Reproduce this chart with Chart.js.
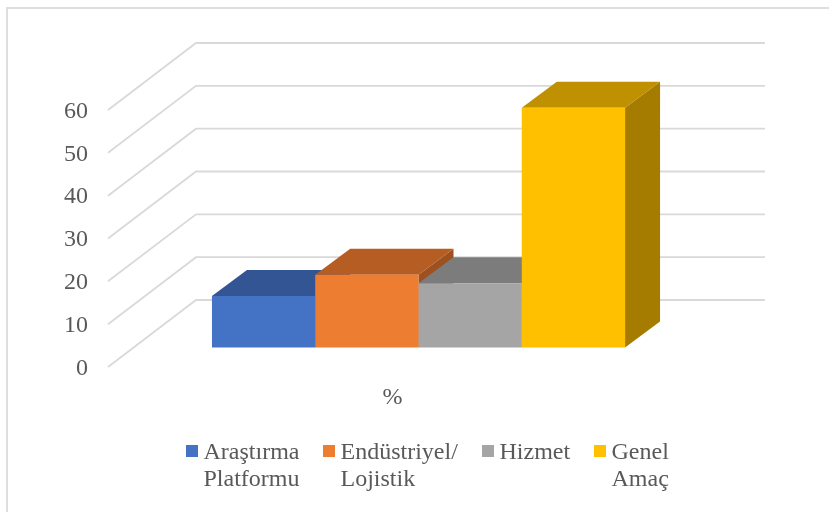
<!DOCTYPE html>
<html>
<head>
<meta charset="utf-8">
<script src="https://cdn.jsdelivr.net/npm/chart.js@4"></script>
<style>
    body { margin: 0; background: #fff; }
    #wrap { position: relative; width: 829px; height: 512px; overflow: hidden; font-family: "Liberation Serif", serif; color: #595959; }
    #frame { position: absolute; left: 6px; top: 7px; right: -5px; bottom: -5px; border: 2px solid #dedede; }
    #grafico { position: absolute; left: 0; top: 0; }
    .item { position: absolute; top: 438px; font-size: 24px; line-height: 27px; padding-left: 17.5px; white-space: pre; }
    .item i { position: absolute; left: 0; top: 7px; width: 12px; height: 12px; }
</style>
</head>
<body>
<div id="wrap">
    <div id="frame"></div>
    <canvas id="grafico" width="829" height="512"></canvas>
</div>
<script>
const categories = ["%"];
const seriesNames = ["Araştırma\nPlatformu", "Endüstriyel/\nLojistik", "Hizmet", "Genel\nAmaç"];
const seriesValues = [12, 17, 15, 56];
const yTicks = [0, 10, 20, 30, 40, 50, 60];

const frontColors = ["#4472C4", "#ED7D31", "#A5A5A5", "#FFC000"];
const topColors = ["#335593", "#B55D22", "#7C7C7C", "#BF9000"];
const sideColors = ["#2F5390", "#9E5120", "#6C6C6C", "#A67C00"];
const legendLeft = [186, 323, 482, 594];

// perspectiva: pared del fondo y plano donde se apoyan las barras
const wallDx = 88, wallDy = 67;
const barDx = 26, barDy = 19.5;
const depthDx = 35, depthDy = 26;

function poly(ctx, color, pts) {
    ctx.fillStyle = color;
    ctx.beginPath();
    pts.forEach((p, i) => i ? ctx.lineTo(p[0], p[1]) : ctx.moveTo(p[0], p[1]));
    ctx.closePath();
    ctx.fill();
}

const box3d = {
    id: "box3d",
    beforeDatasetsDraw(chart) {
        const ctx = chart.ctx;
        const area = chart.chartArea;
        const y = chart.scales.y;

        // lineas de la cuadricula: pared lateral y pared del fondo
        ctx.save();
        ctx.strokeStyle = "#d9d9d9";
        ctx.lineWidth = 1.8;
        yTicks.forEach(t => {
            const py = y.getPixelForValue(t);
            ctx.beginPath();
            ctx.moveTo(area.left, py);
            ctx.lineTo(area.left + wallDx, py - wallDy);
            ctx.lineTo(area.right + wallDx, py - wallDy);
            ctx.stroke();
        });
        ctx.restore();

        // caras de arriba y del lado, de izquierda a derecha
        seriesValues.forEach((v, i) => {
            const bar = chart.getDatasetMeta(i).data[0];
            const l = bar.x - bar.width / 2 + barDx;
            const r = bar.x + bar.width / 2 + barDx;
            const t = bar.y - barDy;
            const b = bar.base - barDy;
            poly(ctx, sideColors[i], [[r, t], [r + depthDx, t - depthDy], [r + depthDx, b - depthDy], [r, b]]);
            poly(ctx, topColors[i], [[l, t], [l + depthDx, t - depthDy], [r + depthDx, t - depthDy], [r, t]]);
        });
    },
    beforeDatasetDraw(chart) {
        chart.ctx.save();
        chart.ctx.translate(barDx, -barDy);
    },
    afterDatasetDraw(chart) {
        chart.ctx.restore();
    }
};

new Chart(document.getElementById("grafico"), {
    type: "bar",
    data: {
        labels: categories,
        datasets: seriesValues.map((v, i) => ({
            label: seriesNames[i].replace("\n", " "),
            data: [v],
            backgroundColor: frontColors[i],
            barPercentage: 1,
            categoryPercentage: 0.726,
            clip: false
        }))
    },
    options: {
        responsive: false,
        animation: false,
        devicePixelRatio: 1,
        layout: { padding: { top: 110, right: 152 } },
        plugins: { legend: { display: false }, tooltip: { enabled: false } },
        scales: {
            x: {
                grid: { display: false, tickLength: 0 },
                border: { display: false },
                ticks: { color: "#595959", padding: 16, font: { family: "Liberation Serif", size: 24 } },
                afterFit(scale) { scale.height = 145; }
            },
            y: {
                min: 0,
                max: 60,
                afterBuildTicks(scale) { scale.ticks = yTicks.map(value => ({ value })); },
                grid: { display: false, tickLength: 0 },
                border: { display: false },
                ticks: { color: "#595959", padding: 20, labelOffset: 1.5, font: { family: "Liberation Serif", size: 24 } },
                afterFit(scale) { scale.width = 108; }
            }
        }
    },
    plugins: [box3d]
});

// leyenda con nombres en dos lineas
const wrap = document.getElementById("wrap");
seriesNames.forEach((name, i) => {
    const item = document.createElement("div");
    item.className = "item";
    item.style.left = legendLeft[i] + "px";
    item.innerText = name;
    const mark = document.createElement("i");
    mark.style.background = frontColors[i];
    item.appendChild(mark);
    wrap.appendChild(item);
});
</script>
</body>
</html>
